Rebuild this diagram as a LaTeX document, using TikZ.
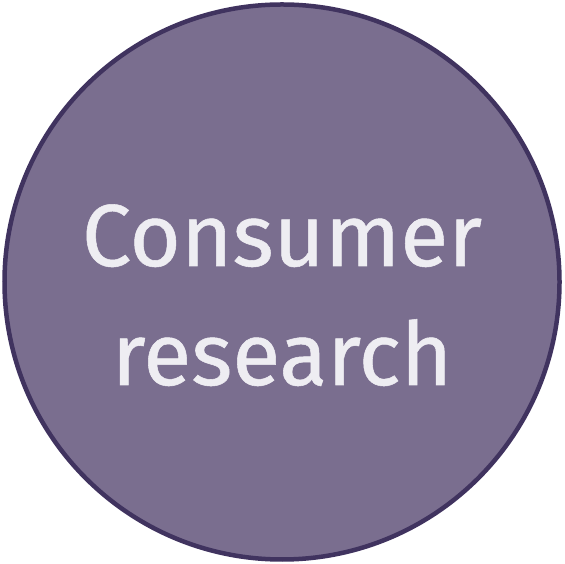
\documentclass[tikz,border=0pt]{standalone}
\usepackage{fontspec}
\setmainfont{Fira Sans}[FakeBold=0.6]
\usepackage{xcolor}
\usetikzlibrary{positioning}
\definecolor{topicfill}{HTML}{7A6E8F}
\definecolor{topicline}{HTML}{40335F}
\definecolor{topictext}{HTML}{EEEDF2}

\begin{document}
\begin{tikzpicture}[
    x=1pt, y=1pt,
    topic/.style={circle, draw=topicline, fill=topicfill, line width=4.5pt, minimum size=555pt, inner sep=0pt},
    word/.style={text=topictext, font=\fontsize{88}{100}\selectfont, anchor=base, inner sep=0pt}
]
    \useasboundingbox (0,0) rectangle (564,564);
    \node[topic] (circ) at (282,282) {};
    \node[word] (first) at (282,298) {Consumer};
    \node[word] (second) at (282,179) {research};
\end{tikzpicture}
\end{document}
